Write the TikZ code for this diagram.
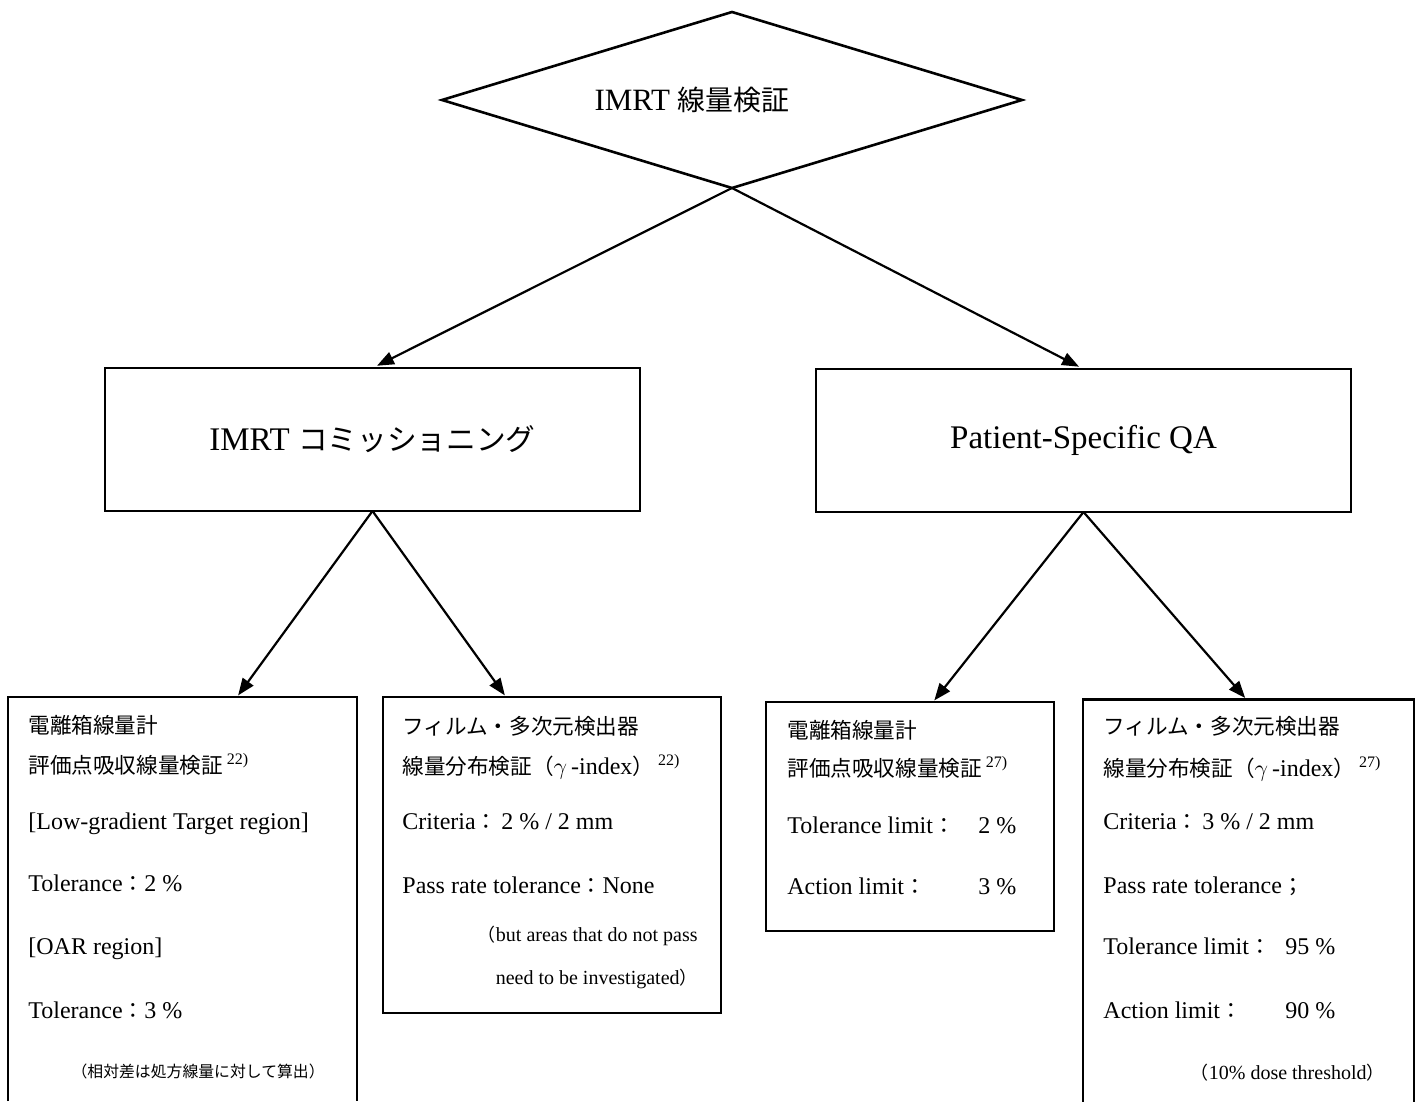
\documentclass[tikz,border=0pt]{standalone}
\usepackage{fontspec}
\setmainfont{Liberation Serif}
\newfontfamily\jpfont{Noto Sans CJK JP}[Scale=0.9]
\newcommand\ja[1]{{\jpfont #1}}
\usetikzlibrary{shapes.geometric,arrows.meta,calc}

\begin{document}
\begin{tikzpicture}[x=0.5pt,y=-0.5pt,
  box/.style={draw, line width=1.3pt, inner sep=0pt, outer sep=0pt},
  head/.style={font=\fontsize{16.5}{19}\selectfont},
  txt/.style={anchor=west, inner sep=0pt, text height=9pt, text depth=3pt, font=\fontsize{12}{14}\selectfont},
  note/.style={anchor=east, inner sep=0pt, text height=7pt, text depth=2.5pt, font=\fontsize{10}{12}\selectfont},
  arr/.style={line width=1.1pt, -{Triangle[length=8.5pt,width=6.5pt]}}]
\useasboundingbox (0,0) rectangle (1416,1101);

% top
\node[box, diamond, aspect=3.3, minimum width=290pt, minimum height=88pt, font=\fontsize{15.5}{18}\selectfont] (top) at (732,100) {IMRT \ja{線量検証}\kern40pt};

% second row
\node[box, minimum width=267.5pt, minimum height=71.5pt, head] (comm) at (372.5,439.5) {IMRT \ja{コミッショニング}};
\node[box, minimum width=267.5pt, minimum height=71.5pt, head] (psqa) at (1083.5,440.5) {Patient-Specific QA};

\draw[arr, shorten >=2.5pt] (top.south) -- (comm.north);
\draw[arr, shorten >=2.5pt] (top.south) -- (psqa.north);

% third row boxes
\node[box, draw=none, minimum width=174.5pt, minimum height=202pt] (ionc) at (182.5,899) {};
\draw[line width=1.3pt] (ionc.south west) |- (ionc.north east) -- (ionc.south east);
\node[box, minimum width=169pt, minimum height=158pt] (filmc) at (552,855) {};
\node[box, minimum width=144pt, minimum height=114.5pt] (ionq) at (910,816.5) {};
\node[box, draw=none, minimum width=165.5pt, minimum height=201pt] (filmq) at (1248.5,900.5) {};
\draw[line width=1.3pt] (filmq.south west) |- (filmq.north east) -- (filmq.south east);

\draw[arr, shorten >=1pt] (comm.south) -- ($(ionc.north west)!.656!(ionc.north east)$);
\draw[arr, shorten >=1pt] (comm.south) -- ($(filmc.north west)!.364!(filmc.north east)$);
\draw[arr, shorten >=1pt] (psqa.south) -- ($(ionq.north west)!.58!(ionq.north east)$);
\draw[arr, shorten >=1pt] (psqa.south) -- ($(filmq.north west)!.494!(filmq.north east)$);

% commissioning: ion chamber
\node[txt] (ionc1) at (28,727) {\ja{電離箱線量計}};
\node[txt] (ionc2) at (28,767) {\ja{評価点吸収線量検証}\,\textsuperscript{22)}};
\node[txt] (ionc3) at (28,823) {[Low-gradient Target region]};
\node[txt] (ionc4) at (28,885) {Tolerance\ja{：}2 \%};
\node[txt] (ionc5) at (28,948) {[OAR region]};
\node[txt] (ionc6) at (28,1012) {Tolerance\ja{：}3 \%};
\node[note, font=\fontsize{8.8}{10}\selectfont] (ionc7) at (325,1073) {\ja{（相対差は処方線量に対して算出）}};

% commissioning: film
\node[txt] (filmc1) at (402,728) {\ja{フィルム・多次元検出器}};
\node[txt] (filmc2) at (402,768) {\ja{線量分布検証（}$\gamma$\,-index\ja{）}\,\textsuperscript{22)}};
\node[txt] (filmc3) at (402,823) {Criteria\ja{：}\,2 \% / 2 mm};
\node[txt] (filmc4) at (402,887) {Pass rate tolerance\ja{：}None};
\node[note] (filmc5) at (698,937) {\ja{（}but areas that do not pass};
\node[note] (filmc6) at (698,980) {need to be investigated\ja{）}};

% patient QA: ion chamber
\node[txt] (ionq1) at (787,732) {\ja{電離箱線量計}};
\node[txt] (ionq2) at (787,770) {\ja{評価点吸収線量検証}\,\textsuperscript{27)}};
\node[txt] (ionq3) at (787,827) {\makebox[95.5pt][l]{Tolerance limit\ja{：}}2 \%};
\node[txt] (ionq4) at (787,888) {\makebox[95.5pt][l]{Action limit\ja{：}}3 \%};

% patient QA: film
\node[txt] (filmq1) at (1103,728) {\ja{フィルム・多次元検出器}};
\node[txt] (filmq2) at (1103,770) {\ja{線量分布検証（}$\gamma$\,-index\ja{）}\,\textsuperscript{27)}};
\node[txt] (filmq3) at (1103,823) {Criteria\ja{：}\,3 \% / 2 mm};
\node[txt] (filmq4) at (1103,887) {Pass rate tolerance\ja{；}};
\node[txt] (filmq5) at (1103,948) {\makebox[91pt][l]{Tolerance limit\ja{：}}95 \%};
\node[txt] (filmq6) at (1103,1012) {\makebox[91pt][l]{Action limit\ja{：}}90 \%};
\node[note] (filmq7) at (1385,1075) {\ja{（}10\% dose threshold\ja{）}};
\end{tikzpicture}
\end{document}
